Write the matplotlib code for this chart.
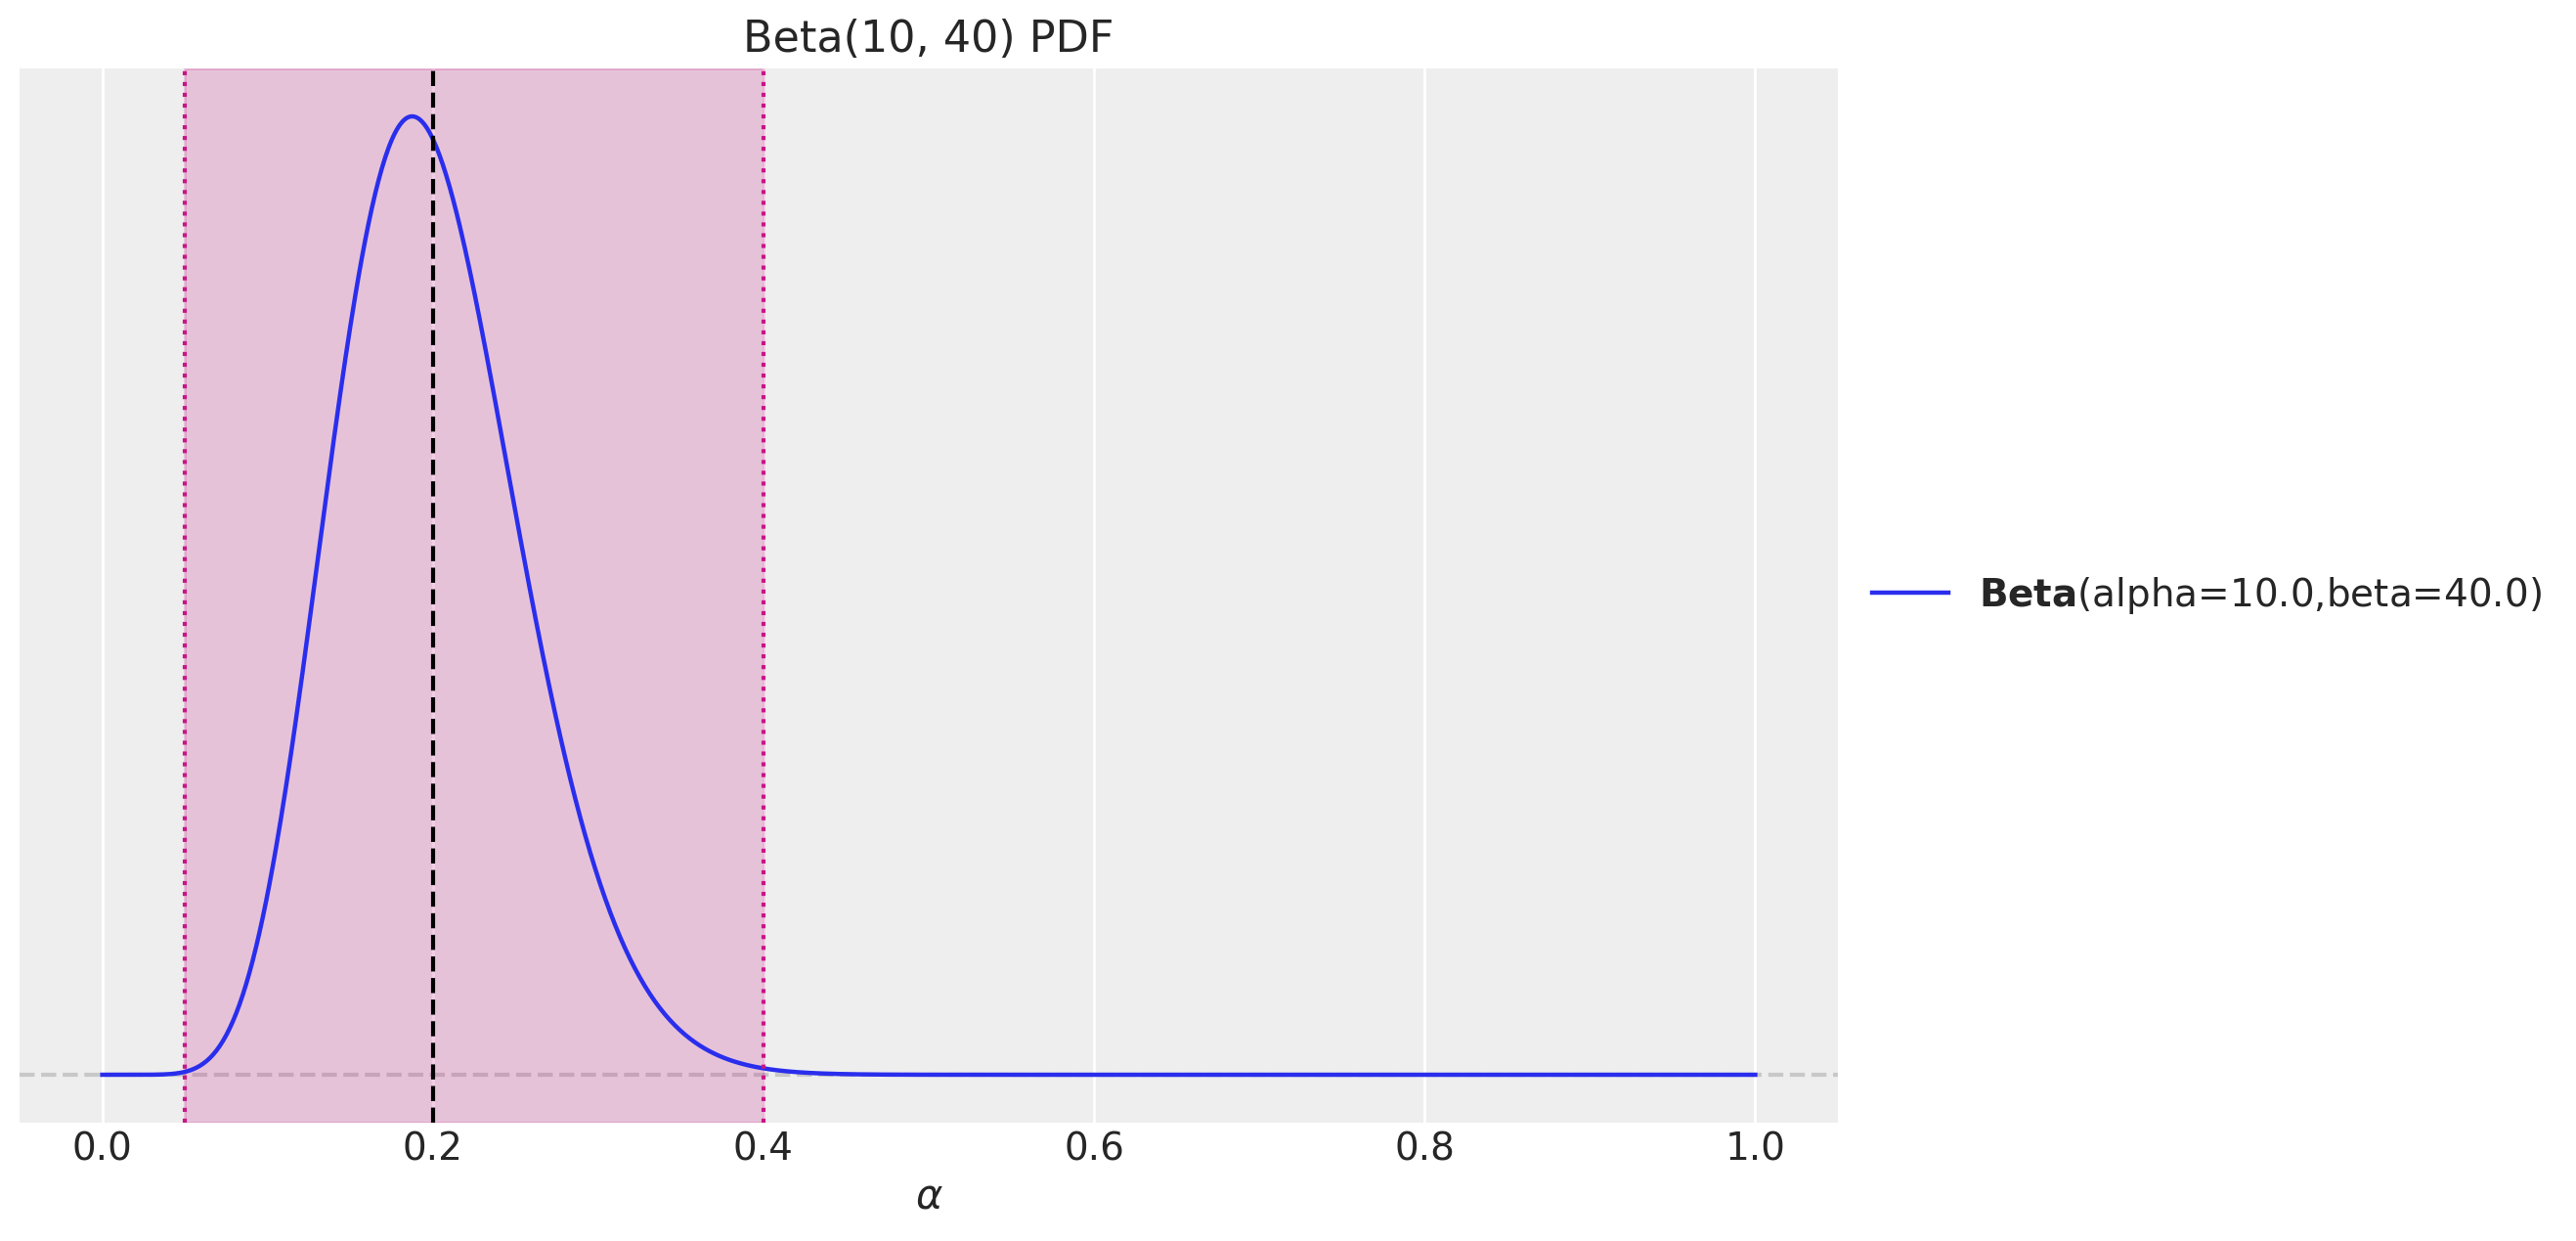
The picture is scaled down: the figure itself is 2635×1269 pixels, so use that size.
import math
import numpy as np
import matplotlib
matplotlib.use("Agg")
import matplotlib.pyplot as plt

# distribution parameters (from the chart title / legend)
alpha_param = 10.0
beta_param = 40.0
interval_low = 0.05
interval_high = 0.4
reference_value = 0.2
x_ticks = [0.0, 0.2, 0.4, 0.6, 0.8, 1.0]
title_text = "Beta(10, 40) PDF"
legend_label = r"$\bf{Beta}$(alpha=10.0,beta=40.0)"

x = np.linspace(0, 1, 1000)
log_norm = math.lgamma(alpha_param + beta_param) - math.lgamma(alpha_param) - math.lgamma(beta_param)
with np.errstate(divide="ignore"):
    pdf = np.exp(log_norm + (alpha_param - 1) * np.log(x) + (beta_param - 1) * np.log1p(-x))
pdf = np.nan_to_num(pdf)

plt.rcParams["font.family"] = ["DejaVu Sans"]
fig = plt.figure(figsize=(13.175, 6.345), dpi=200)
ax = fig.add_axes([20 / 2635, 1 - 1148 / 1269, 1860 / 2635, 1078 / 1269])
ax.set_facecolor("#eeeeee")
for s in ax.spines.values():
    s.set_visible(False)
ax.grid(True, axis="x", color="white", linewidth=1.0)
ax.set_axisbelow(True)

ax.plot(x, pdf, color="#2a2eec", lw=1.6, label=legend_label, zorder=3)
ax.axhline(0, color="#c8c8c8", ls="--", lw=1.5, zorder=1)
ax.axvspan(interval_low, interval_high, color="mediumvioletred", alpha=0.2, lw=1, zorder=2)
ax.axvline(interval_low, color="mediumvioletred", ls=":", lw=1.5, zorder=4)
ax.axvline(interval_high, color="mediumvioletred", ls=":", lw=1.5, zorder=4)
ax.axvline(reference_value, color="black", ls="--", lw=1.5, zorder=4)

ax.margins(x=0.05, y=0.05)
ax.set_xticks(x_ticks)
ax.set_xticklabels([f"{t:.1f}" for t in x_ticks])
ax.tick_params(axis="x", labelsize=14, length=0, pad=3, colors="#262626")
ax.set_yticks([])
ax.set_xlabel(r"$\alpha$", fontsize=15, color="#262626", labelpad=3)
ax.set_title(title_text, fontsize=16, color="#262626")
leg = ax.legend(loc="center left", bbox_to_anchor=(1.0, 0.5), frameon=False, fontsize=14)
for t in leg.get_texts():
    t.set_color("#262626")

fig.savefig("out.png", dpi=200)
